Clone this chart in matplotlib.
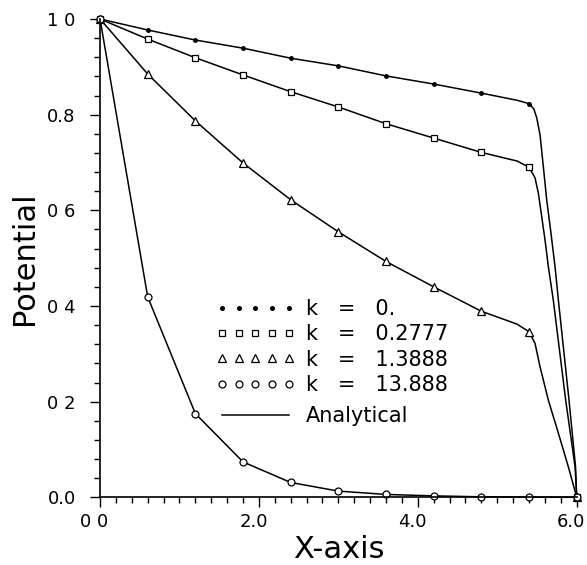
import matplotlib
matplotlib.use("Agg")
import matplotlib.pyplot as plt
import matplotlib.transforms as mtransforms
from matplotlib.lines import Line2D

# nodal values
x_nodes = [0.0, 0.6, 1.2, 1.8, 2.4, 3.0, 3.6, 4.2, 4.8, 5.4, 6.0]
k_0      = [1.0, 0.977, 0.956, 0.939, 0.918, 0.902, 0.881, 0.864, 0.845, 0.823, 0.0]
k_0_2777 = [1.0, 0.958, 0.919, 0.883, 0.848, 0.816, 0.781, 0.751, 0.721, 0.690, 0.0]
k_1_3888 = [1.0, 0.885, 0.787, 0.699, 0.622, 0.555, 0.493, 0.440, 0.389, 0.346, 0.0]
k_13_888 = [1.0, 0.419, 0.175, 0.074, 0.031, 0.013, 0.006, 0.003, 0.001, 0.0005, 0.0]

# analytical curves
ana_x_0 = [0.0, 0.6, 1.2, 1.8, 2.4, 3.0, 3.6, 4.2, 4.8, 5.25, 5.4, 5.46, 5.497, 5.538,
           5.58, 5.622, 5.676, 5.727, 5.769, 5.86, 5.903, 5.985, 6.0]
ana_y_0 = [1.0, 0.977, 0.956, 0.939, 0.918, 0.902, 0.881, 0.864, 0.845, 0.830,
           0.823, 0.812, 0.793, 0.758, 0.691, 0.622, 0.552, 0.482, 0.4125, 0.27,
           0.203, 0.064, 0.0]
ana_x_1 = [0.0, 0.6, 1.2, 1.8, 2.4, 3.0, 3.6, 4.2, 4.8, 5.25, 5.4, 5.475, 5.517,
           5.559, 5.601, 5.643, 5.705, 5.861, 5.979, 6.0]
ana_y_1 = [1.0, 0.958, 0.919, 0.883, 0.848, 0.816, 0.781, 0.751, 0.721, 0.703,
           0.690, 0.668, 0.636, 0.587, 0.538, 0.482, 0.4125, 0.203, 0.064, 0.0]
ana_x_2 = [0.0, 0.6, 1.2, 1.8, 2.4, 3.0, 3.6, 4.2, 4.8, 5.25, 5.4, 5.475, 5.538,
           5.643, 5.769, 5.894, 5.98, 6.0]
ana_y_2 = [1.0, 0.885, 0.787, 0.699, 0.622, 0.555, 0.493, 0.440, 0.389, 0.362,
           0.346, 0.322, 0.273, 0.203, 0.134, 0.064, 0.012, 0.0]
ana_x_3 = x_nodes
ana_y_3 = k_13_888

marker_labels = ["k   =   0.", "k   =   0.2777", "k   =   1.3888", "k   =   13.888"]
line_label = "Analytical"
xtick_vals = [0, 2, 4, 6]
xtick_text = ["0 0", "2.0", "4.0", "6.0"]
ytick_vals = [0.0, 0.2, 0.4, 0.6, 0.8, 1.0]
ytick_text = ["0.0", "0 2", "0 4", "0 6", "0.8", "1 0"]

plt.rcParams["font.family"] = "DejaVu Sans"
fig = plt.figure(figsize=(5.87, 5.65), dpi=100)
ax = fig.add_axes([0.1704, 0.1198, 0.8121, 0.8466])

lw = 1.1
for xs, ys in [(ana_x_0, ana_y_0), (ana_x_1, ana_y_1), (ana_x_2, ana_y_2), (ana_x_3, ana_y_3)]:
    ax.plot(xs, ys, color="black", lw=lw, clip_on=False)

mk = dict(linestyle="none", color="black", clip_on=False, markeredgewidth=0.9)
ax.plot(x_nodes, k_0, marker="o", markersize=2.6, **mk)
ax.plot(x_nodes, k_0_2777, marker="s", markersize=5, markerfacecolor="white", **mk)
ax.plot(x_nodes, k_1_3888, marker="^", markersize=5.5, markerfacecolor="white", **mk)
ax.plot(x_nodes, k_13_888, marker="o", markersize=5, markerfacecolor="white", **mk)

ax.set_xlim(0, 6)
ax.set_ylim(0, 1)
for s in ["top", "right"]:
    ax.spines[s].set_visible(False)
for s in ["left", "bottom"]:
    ax.spines[s].set_linewidth(1.2)

ax.set_xticks(xtick_vals)
ax.set_xticklabels(xtick_text)
ax.set_yticks(ytick_vals)
ax.set_yticklabels(ytick_text)
ax.set_xticks([i * 0.2 for i in range(31)], minor=True)
ax.set_yticks([i * 0.04 for i in range(26)], minor=True)
ax.tick_params(which="major", direction="out", length=7.5, width=1.0, labelsize=13)
ax.tick_params(which="minor", direction="out", length=4.5, width=1.0)
ax.tick_params(axis="y", which="major", pad=10)
ax.tick_params(axis="x", which="major", pad=3.5)

# the x tick labels sit a little left of their ticks in the reference
shift = mtransforms.ScaledTranslation(-0.055, 0, fig.dpi_scale_trans)
for lab in ax.get_xticklabels():
    lab.set_transform(lab.get_transform() + shift)

ax.set_xlabel("X-axis", fontsize=22, labelpad=3)
ax.set_ylabel("Potential", fontsize=22, labelpad=6)

marker_handles = [
    Line2D([], [], linestyle="none", marker="o", markersize=2.6, color="black"),
    Line2D([], [], linestyle="none", marker="s", markersize=5, color="black",
           markerfacecolor="white", markeredgewidth=0.9),
    Line2D([], [], linestyle="none", marker="^", markersize=5.5, color="black",
           markerfacecolor="white", markeredgewidth=0.9),
    Line2D([], [], linestyle="none", marker="o", markersize=5, color="black",
           markerfacecolor="white", markeredgewidth=0.9),
]
leg_kw = dict(loc="upper left", frameon=False, numpoints=5, fontsize=15,
              handlelength=3.8, handletextpad=0.53, borderpad=0, borderaxespad=0)
leg1 = ax.legend(marker_handles, marker_labels, bbox_to_anchor=(0.243, 0.415),
                 labelspacing=0.26, **leg_kw)
ax.add_artist(leg1)
ax.legend([Line2D([], [], color="black", lw=lw)], [line_label],
          bbox_to_anchor=(0.243, 0.19), **leg_kw)

fig.savefig("out.png", dpi=100)
